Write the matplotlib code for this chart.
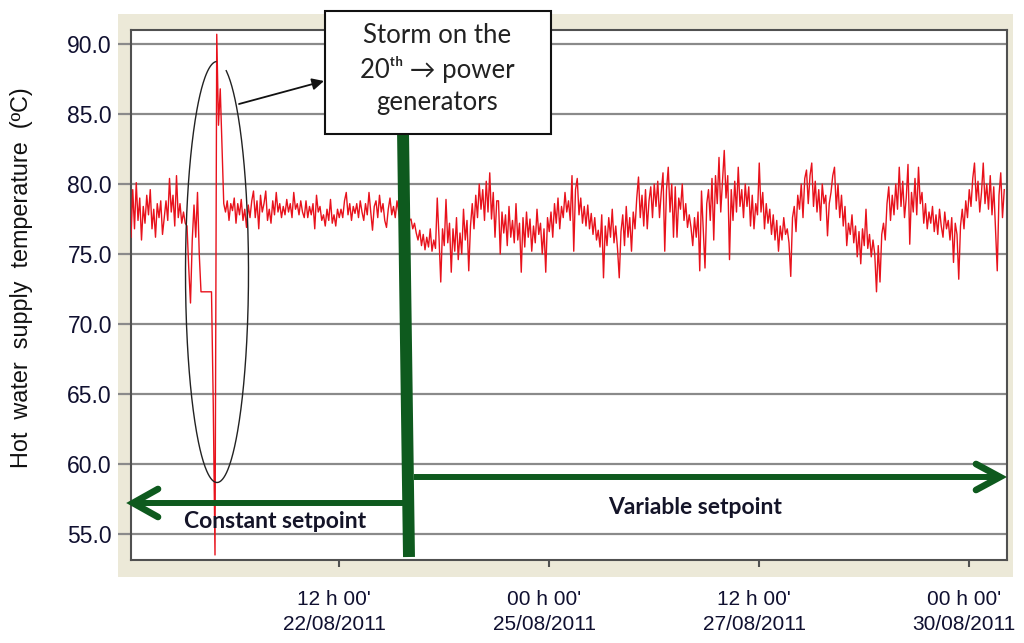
import numpy as np
import matplotlib
matplotlib.use("Agg")
import matplotlib.pyplot as plt
from matplotlib.lines import Line2D
from matplotlib.patches import Rectangle, FancyArrowPatch
from matplotlib.transforms import ScaledTranslation

# ---------------- data (half-hourly samples) ----------------
start_hour = -59.43          # hours relative to 22/08/2011 12h00
step_hours = 0.5
temps = [
    76.2, 79.6, 76.8, 80.1, 77.4, 79.0, 76.0, 78.4, 77.2, 79.2,
    77.8, 79.6, 76.8, 78.2, 76.2, 78.6, 77.6, 78.8, 76.4, 77.6,
    78.8, 77.4, 80.4, 78.0, 79.2, 77.0, 80.6, 77.6, 78.6, 77.2,
    78.0, 77.2, 77.0, 74.0, 71.5, 76.0, 78.5, 76.2, 79.4, 75.0,
    72.3, 72.3, 72.3, 72.3, 72.3, 72.3, 72.3, 64.3, 53.5, 90.7,
    84.2, 86.8, 82.6, 78.6, 78.0, 78.8, 77.4, 78.6, 78.1, 79.0,
    77.2, 78.6, 77.8, 78.9, 77.4, 78.2, 76.9, 78.5, 77.6, 78.8,
    79.5, 77.6, 78.8, 76.8, 79.2, 78.0, 78.6, 79.5, 77.4, 78.2,
    77.2, 78.8, 77.8, 79.4, 78.0, 78.6, 77.6, 78.4, 77.8, 78.9,
    78.0, 78.6, 77.6, 79.4, 78.2, 78.6, 77.8, 78.8, 78.0, 77.6,
    78.8, 77.6, 78.4, 77.8, 78.6, 76.8, 79.2, 78.0, 78.4, 77.4,
    77.8, 77.0, 78.2, 77.4, 78.9, 77.2, 77.8, 77.0, 78.2, 77.6,
    78.2, 77.6, 78.8, 79.4, 77.8, 78.6, 77.4, 78.4, 77.9, 78.6,
    77.6, 78.8, 78.0, 77.4, 78.6, 77.8, 79.4, 78.0, 76.7, 78.4,
    78.8, 77.6, 79.2, 78.0, 78.6, 77.4, 76.9, 78.2, 79.0, 77.8,
    78.4, 77.6, 78.8, 78.0, 77.2, 77.8, 77.0, 77.6, 76.8, 77.4,
    77.5, 76.8, 77.2, 76.5, 76.0, 76.7, 75.6, 76.4, 75.3, 76.2,
    75.5, 76.8, 75.2, 76.0, 75.4, 79.0, 76.2, 73.0, 76.8, 75.6,
    78.9, 75.8, 77.2, 73.7, 76.8, 75.2, 77.6, 74.6, 76.5, 75.0,
    78.2, 76.0, 77.4, 73.8, 77.0, 78.6, 76.8, 79.2, 77.6, 80.0,
    78.2, 79.6, 77.4, 80.2, 78.0, 80.8, 77.5, 79.4, 76.2, 78.8,
    78.8, 75.0, 78.0, 76.5, 77.8, 75.6, 78.4, 76.2, 77.4, 75.8,
    78.6, 76.0, 77.2, 73.7, 77.6, 75.5, 78.0, 76.2, 77.5, 75.2,
    77.0, 75.8, 78.2, 76.4, 77.2, 75.0, 76.8, 73.7, 77.6, 76.6,
    78.0, 76.2, 78.6, 77.2, 79.0, 76.8, 78.4, 77.6, 79.4, 78.0,
    78.8, 77.4, 80.6, 75.2, 79.6, 80.4, 77.8, 79.0, 77.2, 78.4,
    77.0, 78.5, 76.8, 77.9, 76.4, 77.6, 76.0, 76.7, 75.5, 77.8,
    73.3, 77.0, 75.6, 77.6, 76.2, 78.2, 75.8, 77.0, 75.4, 73.3,
    76.6, 77.8, 75.6, 78.4, 76.2, 77.6, 75.2, 78.0, 76.8, 79.0,
    80.5, 77.6, 79.2, 77.0, 79.6, 76.8, 78.8, 79.8, 77.6, 80.0,
    78.4, 80.2, 77.6, 79.4, 80.8, 75.2, 79.6, 81.2, 78.0, 80.0,
    76.2, 79.8, 76.2, 79.0, 78.2, 80.0, 77.4, 78.6, 76.9, 77.8,
    76.9, 75.6, 77.6, 76.2, 78.0, 73.8, 79.5, 76.8, 74.0, 78.6,
    79.6, 77.4, 80.4, 76.0, 80.6, 78.6, 81.9, 78.0, 80.2, 82.4,
    79.0, 80.6, 74.6, 79.6, 77.4, 80.2, 78.0, 81.2, 78.4, 79.6,
    77.6, 80.0, 78.4, 79.8, 77.0, 79.2, 76.8, 78.6, 77.8, 81.5,
    78.0, 79.4, 76.8, 78.6, 77.2, 78.2, 76.4, 77.8, 76.0, 77.4,
    75.2, 77.0, 76.0, 77.6, 76.4, 76.8, 75.8, 73.4, 77.6, 78.4,
    76.6, 79.2, 78.2, 80.0, 77.6, 80.4, 81.0, 78.6, 80.6, 81.5,
    78.4, 80.2, 78.0, 79.6, 77.4, 80.0, 78.6, 79.2, 76.3, 78.6,
    79.4, 80.6, 81.2, 78.2, 80.0, 77.6, 79.2, 77.0, 78.4, 75.6,
    77.2, 76.4, 77.8, 75.8, 77.0, 74.8, 76.6, 74.3, 76.8, 75.6,
    78.2, 75.4, 76.4, 74.8, 76.0, 75.0, 72.3, 75.6, 73.0, 76.4,
    77.2, 76.0, 78.6, 79.8, 77.4, 79.2, 77.8, 80.0, 78.2, 81.2,
    78.4, 80.2, 77.6, 79.0, 81.4, 75.7, 79.4, 78.0, 80.4, 77.8,
    81.2, 78.6, 79.4, 77.2, 78.6, 76.8, 78.0, 77.2, 78.4, 76.6,
    77.8, 76.4, 78.2, 77.0, 76.2, 78.0, 76.8, 77.4, 76.0, 77.6,
    74.4, 77.2, 76.4, 73.2, 77.0, 78.2, 76.8, 78.8, 77.6, 79.6,
    78.4, 80.4, 81.5, 78.8, 80.2, 78.0, 79.4, 81.5, 78.6, 80.0,
    78.2, 80.6, 77.8, 79.8, 76.8, 73.8, 79.2, 80.8, 77.6, 79.6,
]
y_ticks = [55.0, 60.0, 65.0, 70.0, 75.0, 80.0, 85.0, 90.0]
x_tick_hours = [0, 60, 120, 180]
x_tick_labels = ["12 h 00'\n22/08/2011", "00 h 00'\n25/08/2011",
                 "12 h 00'\n27/08/2011", "00 h 00'\n30/08/2011"]
y_label = "Hot  water  supply  temperature  (ºC)"
note_text = "Storm on the\n20ᵗʰ → power\ngenerators"
left_text = "Constant setpoint"
right_text = "Variable setpoint"

times = start_hour + step_hours * np.arange(len(temps))

# ---------------- figure ----------------
W, H = 1024, 643
fig = plt.figure(figsize=(W / 100, H / 100), dpi=100)
fig.patch.set_facecolor("white")


def fx(x):
    return x / W


def fy(y):
    return 1 - y / H


fig.add_artist(Rectangle((fx(118), fy(577)), (1013 - 118) / W, (577 - 14) / H,
                         transform=fig.transFigure, facecolor="#ECE9D8",
                         edgecolor="none", zorder=-5))

ax = fig.add_axes([fx(131), fy(560), (1007 - 131) / W, (560 - 29.5) / H])
ax.set_facecolor("white")
ax.plot(times, temps, color="#e8121c", lw=1.0, zorder=3)

ax.set_xlim(start_hour, start_hour + (1007 - 131) / 3.5)
ax.set_ylim(53.14, 91.04)

ax.set_yticks(y_ticks)
ax.set_yticklabels([f"{v:.1f}" for v in y_ticks])
ax.set_xticks(x_tick_hours)
ax.set_xticklabels(x_tick_labels, linespacing=1.4)
ax.grid(axis="y", color="#8a8a8a", lw=1.6, zorder=1)
ax.set_axisbelow(True)

ax.tick_params(axis="y", length=9.4, width=1.6, color="#8a8a8a", pad=4.3,
               labelsize=16.5, labelcolor="#101030")
ax.tick_params(axis="x", length=5, width=1.5, color="#505050", pad=16.5,
               labelsize=15, labelcolor="#101030")
for lab in ax.get_yticklabels() + ax.get_xticklabels():
    lab.set_family("Liberation Sans")
shift = ScaledTranslation(-5 / 100, 0, fig.dpi_scale_trans)
for lab in ax.get_xticklabels():
    lab.set_transform(lab.get_transform() + shift)
for s in ax.spines.values():
    s.set_color("#505050")
    s.set_linewidth(1.5)

fig.text(fx(22), fy(278), y_label, rotation=90, ha="center", va="center",
         fontsize=16.8, family="Liberation Sans", color="#111111")

# ---------------- annotations (figure pixel coordinates) ----------------
green = "#0E5A1E"


def fline(xs, ys, **kw):
    fig.add_artist(Line2D([fx(v) for v in xs], [fy(v) for v in ys],
                          transform=fig.transFigure, **kw))


# thick vertical bar
fline([403, 409], [131, 557], color=green, lw=8.6, solid_capstyle="butt", zorder=6)
# left arrow (constant setpoint)
fline([404, 133], [503, 503], color=green, lw=4.3, solid_capstyle="butt", zorder=6)
fline([158, 133, 158], [489, 503, 517], color=green, lw=4.8,
      solid_capstyle="round", solid_joinstyle="miter", zorder=6)
# right arrow (variable setpoint)
fline([414, 999], [477, 477], color=green, lw=4.3, solid_capstyle="butt", zorder=6)
fline([976, 1000, 976], [464, 477, 490], color=green, lw=4.8,
      solid_capstyle="round", solid_joinstyle="miter", zorder=6)

fig.text(fx(275), fy(522), left_text, ha="center", va="center", fontsize=16.5,
         fontweight="bold", family="Lato", color="#141428", zorder=7)
fig.text(fx(695), fy(507), right_text, ha="center", va="center", fontsize=16.5,
         fontweight="bold", family="Lato", color="#141428", zorder=7)

# ellipse around the storm event (open at the top)
t = np.radians(np.linspace(92, 433, 400))
ex = 217 + 31.5 * np.cos(t)
ey = 272 - 210.5 * np.sin(t)
fline(ex, ey, color="#222222", lw=1.0, zorder=6)

# arrow from ellipse to the box
fig.add_artist(FancyArrowPatch(
    (fx(239), fy(104)), (fx(324), fy(81)), transform=fig.transFigure,
    arrowstyle="-|>,head_length=7,head_width=3.5", color="#111111",
    lw=1.3, zorder=8, shrinkA=0, shrinkB=0))

# note box
fig.add_artist(Rectangle((fx(325), fy(134)), (551 - 325) / W, (134 - 11) / H,
                         transform=fig.transFigure, facecolor="white",
                         edgecolor="#111111", lw=1.5, zorder=9))
fig.text(fx(437), fy(69), note_text, ha="center", va="center", fontsize=18.5,
         family=["Lato", "DejaVu Sans"], color="#222222", linespacing=1.38,
         zorder=10)

fig.savefig("out.png", dpi=100)
